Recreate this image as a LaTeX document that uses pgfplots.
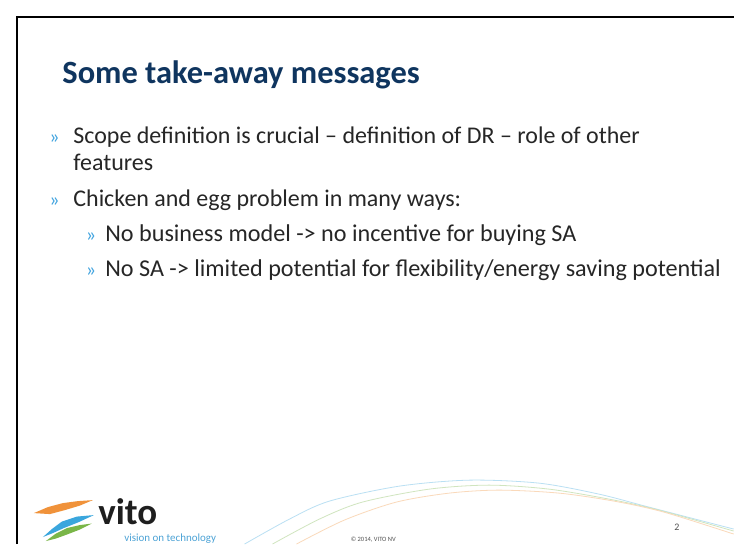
\documentclass[border=0pt]{standalone}
\usepackage{pgfplots}
\pgfplotsset{compat=1.18}
\usepackage{fontspec}
\setmainfont{Carlito}
\definecolor{titlecol}{HTML}{0F355F}
\definecolor{bodycol}{HTML}{262626}
\definecolor{bulletcol}{HTML}{3FA3DF}
\definecolor{swblue}{HTML}{3AA6DD}
\definecolor{swgreen}{HTML}{7AB648}
\definecolor{sworange}{HTML}{F0923A}
\definecolor{vitotext}{HTML}{1E1E1E}
\definecolor{vitosub}{HTML}{4DA3D6}
\begin{document}
\begin{tikzpicture}
\begin{axis}[scale only axis, width=735pt, height=545pt,
  xmin=0, xmax=735, ymin=0, ymax=545, axis lines=none, clip=false,
  axis background/.style={fill=white, draw=none},
  every node/.append style={inner sep=0pt, outer sep=0pt}]
% border
\addplot[black, line width=2.6pt] coordinates {(17.2,0) (17.2,528) (735,528)};
% decorative curves
\addplot[swblue!35, line width=0.8pt, smooth] coordinates {(245,0) (290,25) (330,43) (400,58) (470,64) (540,61) (600,50) (650,37) (735,15)};
\addplot[swgreen!35, line width=0.8pt, smooth] coordinates {(273,0) (320,25) (363,42) (430,55) (490,59) (550,55) (610,45) (660,34) (735,13)};
\addplot[sworange!35, line width=0.8pt, smooth] coordinates {(297,0) (345,24) (397,42) (450,51) (500,54) (560,51) (615,43) (665,32) (735,10)};
% logo swoosh
\addplot[fill=sworange, draw=none] coordinates {(34,31) (48,37) (63,41) (78,43) (93,44) (80,38.5) (65,34) (50,30) (34,31)} -- cycle;
\addplot[fill=swblue, draw=none] coordinates {(43,7) (52,15) (62,22.5) (77,27.5) (94,29) (79,22) (64,16) (53,11) (43,7)} -- cycle;
\addplot[fill=swgreen, draw=none] coordinates {(46,3) (56,10.5) (67,16) (80,19) (92,20.5) (80,14.5) (67,9.5) (56,5.5) (46,3)} -- cycle;
% title
\node[anchor=base west, font=\fontsize{32.5}{36}\selectfont\bfseries, text=titlecol] at (axis cs:59,461.7) {Some take-away messages};
% bullets
\node[anchor=base west, font=\fontsize{20}{22}\selectfont, text=bulletcol] at (axis cs:46,401.7) {»};
\node[anchor=base west, font=\fontsize{24}{28}\selectfont, text=bodycol] at (axis cs:70,401.7) {Scope definition is crucial – definition of DR – role of other};
\node[anchor=base west, font=\fontsize{24}{28}\selectfont, text=bodycol] at (axis cs:70,374.3) {features};
\node[anchor=base west, font=\fontsize{20}{22}\selectfont, text=bulletcol] at (axis cs:46,338.3) {»};
\node[anchor=base west, font=\fontsize{24}{28}\selectfont, text=bodycol] at (axis cs:70,338.3) {Chicken and egg problem in many ways:};
\node[anchor=base west, font=\fontsize{20}{22}\selectfont, text=bulletcol] at (axis cs:82.5,303.3) {»};
\node[anchor=base west, font=\fontsize{24.2}{28}\selectfont, text=bodycol] at (axis cs:102,303.3) {No business model -> no incentive for buying SA};
\node[anchor=base west, font=\fontsize{20}{22}\selectfont, text=bulletcol] at (axis cs:82.5,268) {»};
\node[anchor=base west, font=\fontsize{24.2}{28}\selectfont, text=bodycol] at (axis cs:102,268) {No SA -> limited potential for flexibility/energy saving potential};
% logo text
\node[anchor=base west, text depth=0pt, font=\fontsize{37}{40}\selectfont\bfseries, text=vitotext] at (axis cs:95,20) {vito};
\node[anchor=base west, font=\fontsize{11}{13}\selectfont, text=vitosub] at (axis cs:121,3) {vision on technology};
% footer
\node[anchor=center, font=\fontsize{6.5}{8}\selectfont, text=bodycol!80] at (axis cs:374,4) {© 2014, VITO NV};
\node[anchor=center, font=\fontsize{10}{12}\selectfont, text=bodycol!80] at (axis cs:678,17) {2};
\end{axis}
\end{tikzpicture}
\end{document}
